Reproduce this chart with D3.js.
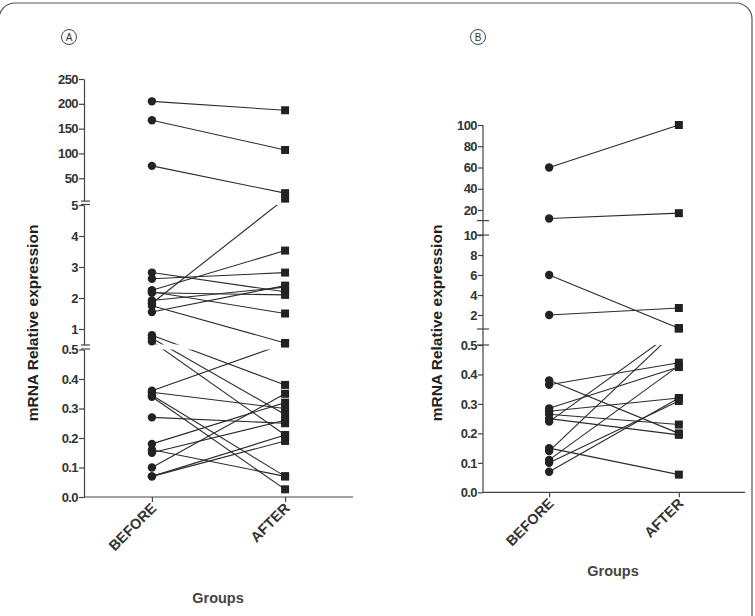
<!DOCTYPE html>
<html>
<head>
<meta charset="utf-8">
<script src="https://cdn.jsdelivr.net/npm/d3@7"></script>
<style>
  body { margin: 0; background: #fff; }
  svg { display: block; font-family: 'Liberation Sans', Arial, sans-serif; }
  .tick text { fill: #333; font-weight: bold; }
</style>
</head>
<body>
<svg id="canvas" width="755" height="616"></svg>
<script>
const groups = ['BEFORE', 'AFTER']

// panel A: broken y axis, three pieces
const piecesA = [[0, 0.5], [0.5, 5], [5, 250]]
const ticksA = [[0, 0.1, 0.2, 0.3, 0.4, 0.5], [1, 2, 3, 4, 5], [50, 100, 150, 200, 250]]
const beforeA = [205, 167, 75,
  2.82, 2.62, 2.25, 2.17, 1.92, 1.83, 2.2, 1.75, 1.55,
  0.8, 0.7, 0.6, 0.36, 0.355, 0.345, 0.34, 0.27, 0.18, 0.16, 0.15, 0.10, 0.07, 0.07]
const afterA = [187, 107, 20,
  2.2, 2.82, 3.53, 2.1, 2.35, 9, 1.5, 0.55, 2.4,
  0.38, 0.28, 0.21, 0.53, 0.30, 0.07, 0.026, 0.25, 0.32, 0.07, 0.26, 0.35, 0.21, 0.19]

// panel B
const piecesB = [[0, 0.5], [0.6, 10], [10, 100]]
const ticksB = [[0, 0.1, 0.2, 0.3, 0.4, 0.5], [2, 4, 6, 8, 10], [20, 40, 60, 80, 100]]
const beforeB = [60, 12, 6, 2,
  0.38, 0.365, 0.285, 0.275, 0.265, 0.25, 0.24, 0.15, 0.14, 0.11, 0.10, 0.07]
const afterB = [100, 17, 0.67, 2.7,
  0.20, 0.44, 0.425, 0.32, 0.23, 0.195, 0.67, 0.06, 0.67, 0.43, 0.31, 0.32]

const svg = d3.select('#canvas')

// rounded frame round the figure
svg.append('rect')
  .attr('x', -1).attr('y', 3)
  .attr('width', 753).attr('height', 660)
  .attr('rx', 16)
  .attr('fill', 'none')
  .attr('stroke', '#555')
  .attr('stroke-width', 1.2)

function drawPanel(opts) {
  const { id, pieces, ticks, before, after, left, right, pixels, continuous } = opts
  const g = svg.append('g')
  const bottom = pixels[0][0]

  const x = d3.scalePoint().domain(groups).range([left, right]).padding(0.51)
  const ys = pieces.map((d, i) => d3.scaleLinear().domain(d).range(pixels[i]))

  // pick the piece a value belongs to
  const y = v => {
    const i = pieces.findIndex(d => v <= d[1])
    return ys[i < 0 ? ys.length - 1 : i](v)
  }

  // clip regions, one per piece, so lines break in the gaps
  pixels.forEach((r, i) => {
    svg.append('clipPath').attr('id', `clip-${id}-${i}`)
      .append('rect')
      .attr('x', left).attr('y', r[1])
      .attr('width', right - left + 20).attr('height', r[0] - r[1])
  })

  const pairs = before.map((b, i) => [b, after[i]])
  const line = d3.line().x(d => d[0]).y(d => d[1])

  pixels.forEach((r, i) => {
    g.append('g')
      .attr('clip-path', `url(#clip-${id}-${i})`)
      .selectAll('path')
      .data(pairs)
      .join('path')
      .attr('d', p => line([[x('BEFORE'), y(p[0])], [x('AFTER'), y(p[1])]]))
      .attr('fill', 'none')
      .attr('stroke', '#2b2b2b')
      .attr('stroke-width', 1.1)
  })

  g.append('g').selectAll('circle')
    .data(before)
    .join('circle')
    .attr('cx', x('BEFORE'))
    .attr('cy', d => y(d))
    .attr('r', 4.2)
    .attr('fill', '#222')

  g.append('g').selectAll('rect')
    .data(after)
    .join('rect')
    .attr('x', x('AFTER') - 4)
    .attr('y', d => y(d) - 4)
    .attr('width', 8).attr('height', 8)
    .attr('fill', '#222')

  // y axis, one piece at a time
  ys.forEach((s, i) => {
    const fmt = pieces[i][1] <= 0.5 ? d3.format('.1f') : d3.format('d')
    const ax = g.append('g')
      .attr('transform', `translate(${left},0)`)
      .call(d3.axisLeft(s).tickValues(ticks[i]).tickFormat(fmt).tickSize(5).tickSizeOuter(0))
    ax.selectAll('text').attr('x', -6).style('font-size', '13px').style('letter-spacing', '-0.6px')
    ax.selectAll('line, path').attr('stroke', '#444').attr('stroke-width', 1.2)
    if (continuous) ax.select('.domain').remove()
  })

  if (continuous) {
    g.append('line')
      .attr('x1', left).attr('x2', left)
      .attr('y1', bottom).attr('y2', pixels[pixels.length - 1][1])
      .attr('stroke', '#444').attr('stroke-width', 1.2)
    // crossing marks at the piece ends
    pixels.slice(0, -1).forEach((r, i) => {
      g.append('line')
        .attr('x1', left - 6).attr('x2', left + 6)
        .attr('y1', r[1]).attr('y2', r[1])
        .attr('stroke', '#444').attr('stroke-width', 1.2)
      g.append('line')
        .attr('x1', left - 6).attr('x2', left + 6)
        .attr('y1', pixels[i + 1][0]).attr('y2', pixels[i + 1][0])
        .attr('stroke', '#444').attr('stroke-width', 1.2)
    })
  } else {
    // "=" marks in the gaps
    pixels.slice(0, -1).forEach((r, i) => {
      [r[1] - 0.5, pixels[i + 1][0] + 0.5].forEach(yy => {
        g.append('line')
          .attr('x1', left - 3).attr('x2', left + 6)
          .attr('y1', yy).attr('y2', yy)
          .attr('stroke', '#444').attr('stroke-width', 1.2)
      })
    })
  }

  // x axis
  const xa = g.append('g')
    .attr('transform', `translate(0,${bottom})`)
    .call(d3.axisBottom(x).tickSize(5).tickSizeOuter(0))
  xa.select('.domain').attr('d', `M${left},0H${right}`)
  xa.selectAll('line, path').attr('stroke', '#444').attr('stroke-width', 1.2)
  xa.selectAll('text')
    .attr('x', -5).attr('y', 7).attr('dy', '0.35em')
    .attr('transform', 'rotate(-45)')
    .style('text-anchor', 'end')
    .style('font-size', '14.5px')
}

drawPanel({
  id: 'a', pieces: piecesA, ticks: ticksA, before: beforeA, after: afterA,
  left: 84, right: 353,
  pixels: [[497, 349.5], [344.5, 205], [200.6, 79]],
  continuous: false
})

drawPanel({
  id: 'b', pieces: piecesB, ticks: ticksB, before: beforeB, after: afterB,
  left: 483, right: 745,
  pixels: [[492.3, 345], [329, 235], [220.6, 125]],
  continuous: true
})

// axis titles
const titles = [[33, 'A'], [437, 'B']]
titles.forEach(t => {
  svg.append('text')
    .attr('transform', `translate(${t[0]},323) rotate(-90)`)
    .attr('text-anchor', 'middle')
    .attr('dy', '0.35em')
    .style('font-size', '15.5px')
    .style('font-weight', 'bold')
    .attr('fill', '#222')
    .text('mRNA Relative expression')
})

svg.append('text').attr('x', 218).attr('y', 603)
  .attr('text-anchor', 'middle').style('font-size', '14.5px').style('font-weight', 'bold')
  .attr('fill', '#444').text('Groups')
svg.append('text').attr('x', 613).attr('y', 576)
  .attr('text-anchor', 'middle').style('font-size', '14.5px').style('font-weight', 'bold')
  .attr('fill', '#444').text('Groups')

// circled panel letters
const letters = [[69, 'A'], [478, 'B']]
letters.forEach(l => {
  svg.append('circle')
    .attr('cx', l[0]).attr('cy', 37).attr('r', 7.5)
    .attr('fill', 'none').attr('stroke', '#444').attr('stroke-width', 1)
  svg.append('text')
    .attr('x', l[0]).attr('y', 37).attr('dy', '0.36em')
    .attr('text-anchor', 'middle')
    .style('font-size', '10px')
    .attr('fill', '#333')
    .text(l[1])
})
</script>
</body>
</html>
